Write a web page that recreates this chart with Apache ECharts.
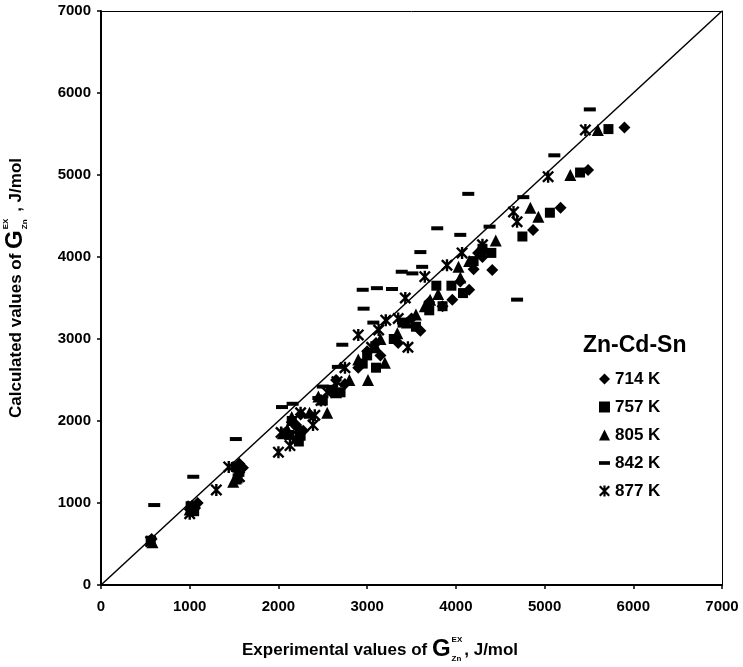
<!DOCTYPE html>
<html>
<head>
<meta charset="utf-8">
<script src="https://cdn.jsdelivr.net/npm/echarts@6/dist/echarts.min.js"></script>
<style>
  html, body { margin: 0; padding: 0; background: #fff; }
  #chart { width: 743px; height: 667px; }
</style>
</head>
<body>
<div id="chart"></div>
<script>
  // [experimental, calculated] G_Zn^EX, J/mol
  let t714 = [[571, 560], [1090, 1000], [1060, 940], [1560, 1480], [1600, 1430], [2200, 1950], [2280, 1880],
    [2250, 2080], [2600, 2350], [2650, 2500], [2750, 2450], [2900, 2650], [3000, 2850], [3100, 2950],
    [3150, 2800], [3350, 2950], [3500, 3250], [3600, 3100], [3700, 3450], [3850, 3400], [3960, 3480],
    [4050, 3700], [4150, 3600], [4200, 3850], [4250, 4050], [4410, 3840], [4300, 4000],
    [4870, 4330], [5180, 4600], [5490, 5060], [5900, 5580]];
  let t757 = [[560, 540], [1010, 960], [1050, 900], [1520, 1440], [1560, 1380], [1540, 1300], [2150, 2000],
    [2120, 1830], [2250, 1820], [2230, 1750], [2500, 2250], [2600, 2380], [2700, 2350], [2950, 2700],
    [3000, 2800], [3100, 2650], [3300, 3000], [3400, 3200], [3550, 3150], [3700, 3350], [3780, 3650],
    [3850, 3400], [3950, 3650], [4080, 3560], [4200, 3950], [4300, 4100], [4400, 4050],
    [4750, 4250], [5060, 4540], [5400, 5030], [5720, 5560]];
  let t805 = [[580, 520], [1000, 920], [1490, 1260], [1520, 1300], [2100, 1900], [2050, 1850], [2200, 1800],
    [2150, 2050], [2350, 2100], [2450, 2300], [2550, 2100], [2650, 2350], [2800, 2500], [2900, 2750],
    [3010, 2500], [3100, 2900], [3150, 3000], [3200, 2710], [3340, 3070], [3450, 3200], [3550, 3300],
    [3650, 3400], [3710, 3480], [3800, 3550], [4030, 3880], [4050, 3750], [4150, 3950], [4300, 4100],
    [4450, 4200], [4840, 4600], [4930, 4490], [5290, 5000], [5600, 5550]];
  let t842 = [[600, 975], [1040, 1320], [1520, 1780], [2040, 2170], [2160, 2210], [2450, 2280], [2500, 2420],
    [2670, 2660], [2720, 2930], [2960, 3370], [3070, 3200], [2950, 3600], [3110, 3620], [3280, 3610],
    [3390, 3820], [3510, 3800], [3600, 4060], [3620, 3880], [3790, 4350], [4050, 4270], [4140, 4770],
    [4380, 4370], [4690, 3480], [4760, 4730], [5110, 5240], [5510, 5800]];
  let t877 = [[560, 530], [1000, 870], [1030, 960], [1300, 1160], [1440, 1440], [1560, 1320], [2000, 1620],
    [2030, 1860], [2130, 1700], [2200, 1880], [2250, 2100], [2390, 1950], [2410, 2070], [2480, 2250],
    [2550, 2350], [2660, 2480], [2750, 2650], [2900, 3050], [3050, 2900], [3130, 3110], [3210, 3230],
    [3350, 3250], [3460, 2900], [3430, 3500], [3650, 3760], [3900, 3900], [4070, 4050], [4300, 4150],
    [4650, 4550], [4690, 4430], [5040, 4980], [5460, 5550]];
  let seriesNames = ['714 K', '757 K', '805 K', '842 K', '877 K'];
  let diagonal = [[0, 0], [7000, 7000]];

  let font = 'Arial, "Liberation Sans", sans-serif';
  let dashPath = 'path://M0,0H12V4H0Z';
  let starPath = 'path://M4,0H6V10H4Z M0,1.4L1.4,0L10,8.6L8.6,10Z M8.6,0L10,1.4L1.4,10L0,8.6Z';
  let symbols = ['diamond', 'rect', 'triangle', dashPath, starPath];
  let sizes = [12, 10, 12, [12, 4], 12];
  let allData = [t714, t757, t805, t842, t877];

  let myChart = echarts.init(document.getElementById('chart'));

  // width helper for the G^EX_Zn titles
  let ctx = document.createElement('canvas').getContext('2d');
  function textW(str, size) {
    ctx.font = 'bold ' + size + 'px ' + font;
    return ctx.measureText(str).width;
  }
  function txt(x, y, str, size) {
    return {
      type: 'text', x: x, y: y,
      style: { text: str, fill: '#000', font: 'bold ' + size + 'px ' + font, verticalAlign: 'middle' }
    };
  }
  function axisTitle(head, tail) {
    let w1 = textW(head, 17);
    let wG = textW('G', 24);
    let wS = Math.max(textW('EX', 8), textW('Zn', 8));
    return [
      txt(0, 0, head, 17),
      txt(w1, -1, 'G', 24),
      txt(w1 + wG + 1, -10, 'EX', 8),
      txt(w1 + wG + 1, 9, 'Zn', 8),
      txt(w1 + wG + wS + 3, 0, tail, 17)
    ];
  }

  let series = [{
    type: 'line',
    data: diagonal,
    symbol: 'none',
    silent: true,
    lineStyle: { color: '#000', width: 1.5 },
    z: 1
  }];
  allData.forEach(function (d, i) {
    series.push({
      name: seriesNames[i],
      type: 'scatter',
      data: d,
      symbol: symbols[i],
      symbolSize: sizes[i],
      itemStyle: { color: '#000', opacity: 1 },
      z: 3
    });
  });

  let plainNum = function (v) { return String(v); };

  let option = {
    animation: false,
    backgroundColor: '#fff',
    grid: { left: 101, right: 21, top: 11, bottom: 82 },
    title: {
      text: 'Zn-Cd-Sn',
      left: 578, top: 329,
      textStyle: { fontSize: 23, fontWeight: 'bold', color: '#000', fontFamily: font }
    },
    legend: {
      orient: 'vertical',
      left: 594, top: 365,
      itemWidth: 11, itemHeight: 11, itemGap: 10,
      symbolKeepAspect: true,
      textStyle: { fontSize: 17, fontWeight: 'bold', color: '#000', fontFamily: font, lineHeight: 18 },
      data: seriesNames.map(function (n, i) { return { name: n, icon: symbols[i] }; })
    },
    xAxis: [{
      type: 'value', min: 0, max: 7000, interval: 1000,
      axisLine: { lineStyle: { color: '#000', width: 2 } },
      axisTick: { show: true, length: 4, lineStyle: { color: '#000', width: 1.5 } },
      axisLabel: { color: '#000', fontWeight: 'bold', fontSize: 15, margin: 14, fontFamily: font, formatter: plainNum },
      splitLine: { show: false }
    }, {
      type: 'value', position: 'top', min: 0, max: 7000,
      axisLine: { show: true, onZero: false, lineStyle: { color: '#000', width: 1 } },
      axisTick: { show: false }, axisLabel: { show: false }, splitLine: { show: false }
    }],
    yAxis: [{
      type: 'value', min: 0, max: 7000, interval: 1000,
      axisLine: { lineStyle: { color: '#000', width: 2 } },
      axisTick: { show: true, length: 4, lineStyle: { color: '#000', width: 1.5 } },
      axisLabel: { color: '#000', fontWeight: 'bold', fontSize: 15, margin: 10, fontFamily: font, formatter: plainNum },
      splitLine: { show: false }
    }, {
      type: 'value', position: 'right', min: 0, max: 7000,
      axisLine: { show: true, onZero: false, lineStyle: { color: '#000', width: 1 } },
      axisTick: { show: false }, axisLabel: { show: false }, splitLine: { show: false }
    }],
    graphic: [{
      type: 'group', x: 242, y: 650,
      children: axisTitle('Experimental values of ', ', J/mol')
    }, {
      type: 'group', x: 16, y: 418, rotation: Math.PI / 2,
      children: axisTitle('Calculated values of ', ' , J/mol')
    }],
    series: series
  };
  myChart.setOption(option);
</script>
</body>
</html>
